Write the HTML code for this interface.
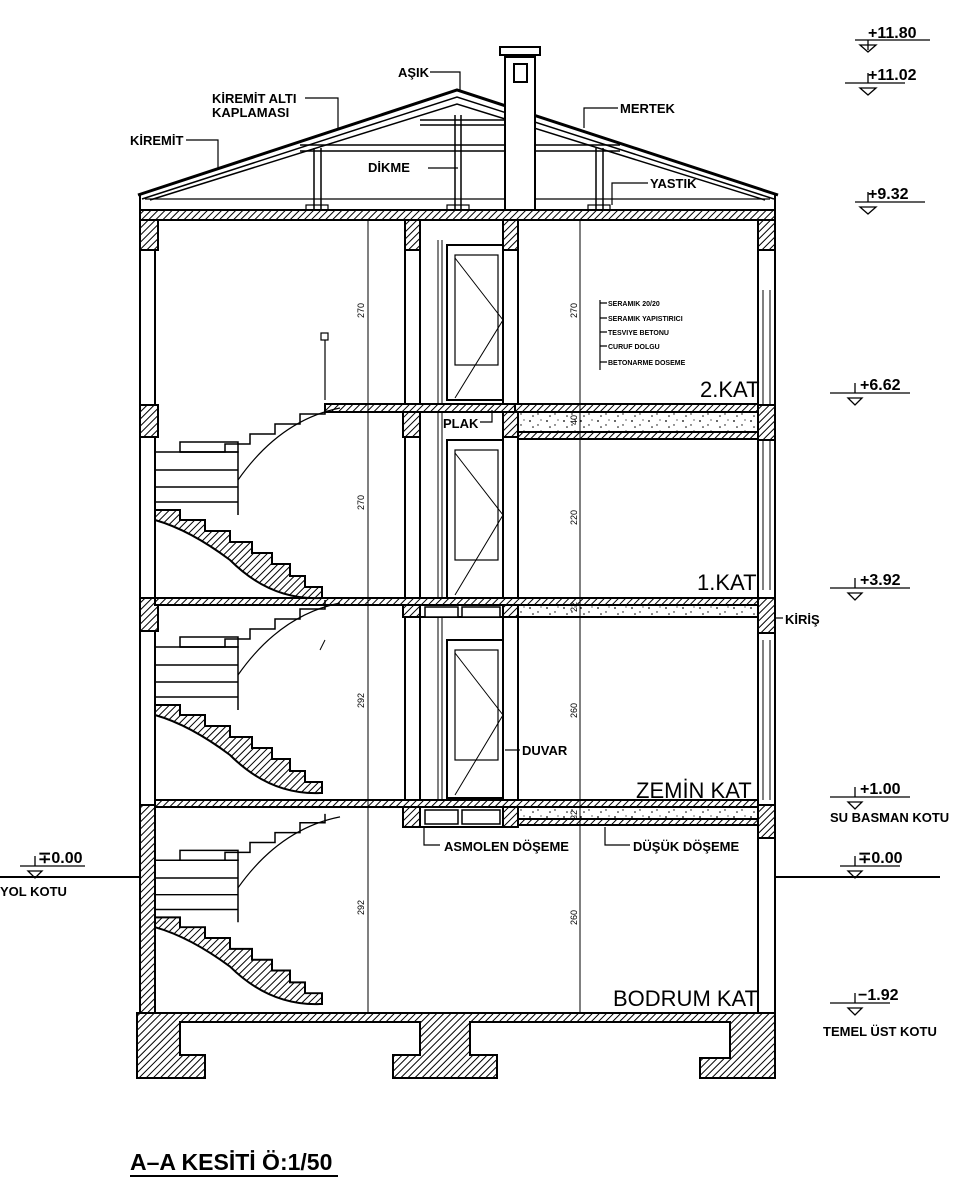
<!DOCTYPE html>
<html><head><meta charset="utf-8"><style>
html,body{margin:0;padding:0;background:#fff;}
svg{display:block;}
text{font-family:"Liberation Sans",sans-serif;fill:#000;}
</style></head><body>
<svg width="965" height="1200" viewBox="0 0 965 1200" xmlns="http://www.w3.org/2000/svg">
<defs>
<pattern id="h" patternUnits="userSpaceOnUse" width="5" height="5" patternTransform="rotate(45)">
<rect width="5" height="5" fill="#fff"/><line x1="0" y1="0" x2="0" y2="5" stroke="#000" stroke-width="2"/></pattern>
<pattern id="d" patternUnits="userSpaceOnUse" width="17" height="11">
<rect width="17" height="11" fill="#fff"/><circle cx="3" cy="3" r="0.9" fill="#000"/><circle cx="11" cy="7" r="0.7" fill="#000"/><circle cx="14" cy="2" r="0.6" fill="#000"/><circle cx="6" cy="9" r="0.8" fill="#000"/></pattern>
<g id="st" stroke="#000" stroke-width="1.5" fill="none">
<path d="M325 405 V414 H300 V424 H275 V434 H250 V444 H225 V452 H180 V452" />
<rect x="180" y="442" width="58" height="10"/>
<path d="M155 452 H238 V515 M155 470 H238 M155 487 H238 M155 502 H238"/>
<path d="M238 480 Q280 420 340 408" stroke-width="1.2"/>
<path d="M155 510 H180 V520 H205 V531 H230 V542 H252 V553 H272 V564 H290 V576 H305 V587 H322 V598 H320 Q270 600 230 560 Q190 530 155 520 Z" fill="url(#h)" stroke-width="2"/>
</g>
</defs>

<!-- roof -->
<g stroke="#000" fill="none">
<path d="M138 195 L457 90 L778 195" stroke-width="3"/>
<path d="M142 199 L457 97 L774 199" stroke-width="1.5"/>
<path d="M150 200 L457 104 L765 200" stroke-width="1.5"/>
<path d="M140 210 V195 M775 210 V195" stroke-width="2"/>
<path d="M145 199 H770" stroke-width="1.2"/>
<path d="M300 145 H620 M300 151 H620" stroke-width="1.5"/>
<path d="M420 120 H505 M420 125 H505" stroke-width="1.5"/>
<path d="M314 148 V210 M321 148 V210 M455 115 V210 M461 115 V210 M596 148 V210 M603 148 V210" stroke-width="1.5"/>
<rect x="306" y="205" width="22" height="5" stroke-width="1.2"/>
<rect x="447" y="205" width="22" height="5" stroke-width="1.2"/>
<rect x="588" y="205" width="22" height="5" stroke-width="1.2"/>
<!-- chimney -->
<rect x="505" y="57" width="30" height="153" fill="#fff" stroke-width="2"/>
<rect x="500" y="47" width="40" height="8" stroke-width="2"/>
<rect x="514" y="64" width="13" height="18" stroke-width="2"/>
</g>

<!-- top slab -->
<rect x="140" y="210" width="635" height="10" fill="url(#h)" stroke="#000" stroke-width="2"/>

<!-- outer walls -->
<g stroke="#000" stroke-width="2" fill="none">
<path d="M140 220 V1013 M155 220 V805"/>
<path d="M758 220 V1013 M775 220 V1013"/>
<path d="M763 290 V590 M770 290 V590 M763 640 V800 M770 640 V800" stroke-width="1"/>
</g>
<g stroke="#000" stroke-width="2" fill="url(#h)">
<rect x="140" y="220" width="18" height="30"/>
<rect x="140" y="405" width="18" height="32"/>
<rect x="140" y="598" width="18" height="33"/>
<rect x="140" y="805" width="15" height="208"/>
<rect x="758" y="220" width="17" height="30"/>
<rect x="758" y="405" width="17" height="35"/>
<rect x="758" y="598" width="17" height="35"/>
<rect x="758" y="805" width="17" height="33"/>
</g>

<!-- interior walls -->
<g stroke="#000" stroke-width="2" fill="none">
<path d="M405 220 V800 M420 220 V800 M503 220 V800 M518 220 V800"/>
<path d="M438 240 V800 M442 240 V800" stroke-width="1"/>
<rect x="447" y="245" width="56" height="155"/>
<rect x="455" y="255" width="43" height="110" stroke-width="1.2"/>
<path d="M455 258 L503 320 L455 398" stroke-width="1"/>
<rect x="447" y="440" width="56" height="158"/>
<rect x="455" y="450" width="43" height="110" stroke-width="1.2"/>
<path d="M455 453 L503 515 L455 595" stroke-width="1"/>
<rect x="447" y="640" width="56" height="158"/>
<rect x="455" y="650" width="43" height="110" stroke-width="1.2"/>
<path d="M455 653 L503 715 L455 795" stroke-width="1"/>
</g>
<g stroke="#000" stroke-width="2" fill="url(#h)">
<rect x="405" y="220" width="15" height="30"/>
<rect x="503" y="220" width="15" height="30"/>
<rect x="403" y="412" width="17" height="25"/>
<rect x="503" y="412" width="17" height="25"/>
<rect x="403" y="605" width="17" height="12"/>
<rect x="503" y="605" width="17" height="12"/>
<rect x="403" y="807" width="17" height="20"/>
<rect x="503" y="807" width="15" height="20"/>
</g>

<!-- slabs -->
<g stroke="#000" stroke-width="2">
<rect x="325" y="404" width="195" height="8" fill="url(#h)"/>
<rect x="515" y="404" width="243" height="8" fill="url(#h)"/>
<rect x="518" y="412" width="240" height="20" fill="url(#d)"/>
<rect x="518" y="432" width="240" height="7" fill="url(#h)"/>
<rect x="155" y="598" width="603" height="7" fill="url(#h)"/>
<rect x="518" y="605" width="240" height="12" fill="url(#d)"/>
<rect x="420" y="605" width="83" height="12" fill="#fff"/>
<rect x="425" y="607" width="33" height="10" fill="#fff" stroke-width="1.5"/>
<rect x="462" y="607" width="38" height="10" fill="#fff" stroke-width="1.5"/>
<rect x="155" y="800" width="603" height="7" fill="url(#h)"/>
<rect x="518" y="807" width="240" height="12" fill="url(#d)"/>
<rect x="518" y="819" width="240" height="6" fill="url(#h)"/>
<rect x="420" y="807" width="83" height="20" fill="#fff"/>
<rect x="425" y="810" width="33" height="14" fill="#fff" stroke-width="1.5"/>
<rect x="462" y="810" width="38" height="14" fill="#fff" stroke-width="1.5"/>
<path d="M403 827 H518" fill="none"/>
</g>

<!-- stairs -->
<use href="#st"/>
<use href="#st" transform="translate(0,195)"/>
<use href="#st" transform="translate(0,415) scale(1,0.985)"/>
<path d="M325 400 V340" stroke="#000" stroke-width="1.2"/>
<rect x="321" y="333" width="7" height="7" fill="none" stroke="#000" stroke-width="1.2"/>
<path d="M320 650 L325 640" stroke="#000"/>

<!-- foundation -->
<path d="M137 1013 H775 V1078 H700 V1058 H730 V1022 H470 V1055 H497 V1078 H393 V1055 H420 V1022 H180 V1055 H205 V1078 H137 Z" fill="url(#h)" stroke="#000" stroke-width="2"/>
<path d="M155 1013 H758" stroke="#000" stroke-width="2"/>

<!-- dimension lines -->
<g stroke="#000" stroke-width="1">
<path d="M368 220 V1013 M580 220 V1013"/>
</g>
<g font-size="9" >
<text transform="translate(364,318) rotate(-90)">270</text>
<text transform="translate(364,510) rotate(-90)">270</text>
<text transform="translate(364,708) rotate(-90)">292</text>
<text transform="translate(364,915) rotate(-90)">292</text>
<text transform="translate(577,318) rotate(-90)">270</text>
<text transform="translate(577,425) rotate(-90)">40</text>
<text transform="translate(577,525) rotate(-90)">220</text>
<text transform="translate(577,612) rotate(-90)">22</text>
<text transform="translate(577,718) rotate(-90)">260</text>
<text transform="translate(577,820) rotate(-90)">22</text>
<text transform="translate(577,925) rotate(-90)">260</text>
</g>

<!-- ground lines -->
<path d="M0 877 H140 M775 877 H940" stroke="#000" stroke-width="2"/>

<!-- leaders -->
<g stroke="#000" stroke-width="1.2" fill="none">
<path d="M430 72 H460 V92"/>
<path d="M305 98 H338 V128"/>
<path d="M186 140 H218 V170"/>
<path d="M428 168 H458"/>
<path d="M618 108 H584 V128"/>
<path d="M648 183 H612 V205"/>
<path d="M600 300 V370 M600 303 H607 M600 318 H607 M600 332 H607 M600 346 H607 M600 362 H607"/>
<path d="M480 422 H492 V410"/>
<path d="M505 750 H520"/>
<path d="M775 618 H783"/>
<path d="M424 827 V845 H440"/>
<path d="M605 827 V845 H630"/>
</g>

<!-- labels -->
<g font-size="13" font-weight="bold">
<text x="398" y="77">AŞIK</text>
<text x="212" y="103">KİREMİT ALTI</text>
<text x="212" y="117">KAPLAMASI</text>
<text x="130" y="145">KİREMİT</text>
<text x="368" y="172">DİKME</text>
<text x="620" y="113">MERTEK</text>
<text x="650" y="188">YASTIK</text>
<text x="443" y="428">PLAK</text>
<text x="522" y="755">DUVAR</text>
<text x="785" y="624">KİRİŞ</text>
<text x="444" y="851">ASMOLEN DÖŞEME</text>
<text x="633" y="851">DÜŞÜK DÖŞEME</text>
</g>
<g font-size="7" font-weight="bold">
<text x="608" y="306">SERAMIK 20/20</text>
<text x="608" y="321">SERAMIK YAPISTIRICI</text>
<text x="608" y="335">TESVIYE BETONU</text>
<text x="608" y="349">CURUF DOLGU</text>
<text x="608" y="365">BETONARME DOSEME</text>
</g>
<g font-size="22">
<text x="700" y="397">2.KAT</text>
<text x="697" y="590">1.KAT</text>
<text x="636" y="798">ZEMİN KAT</text>
<text x="613" y="1006">BODRUM KAT</text>
</g>

<!-- level markers -->
<g stroke="#000" stroke-width="1.3" fill="none">
<path d="M855 40 H930 M868 40 V50 M860 45 L868 52 L876 45 Z"/>
<path d="M845 83 H905 M868 83 V73 M860 88 L868 95 L876 88 Z"/>
<path d="M855 202 H925 M868 202 V192 M860 207 L868 214 L876 207 Z"/>
<path d="M830 393 H910 M855 393 V383 M848 398 L855 405 L862 398 Z"/>
<path d="M830 588 H910 M855 588 V578 M848 593 L855 600 L862 593 Z"/>
<path d="M830 797 H910 M855 797 V787 M848 802 L855 809 L862 802 Z"/>
<path d="M840 866 H900 M855 866 V856 M848 871 L855 878 L862 871 Z"/>
<path d="M830 1003 H890 M855 1003 V993 M848 1008 L855 1015 L862 1008 Z"/>
<path d="M20 866 H85 M35 866 V856 M28 871 L35 878 L42 871 Z"/>
</g>
<g font-size="16" font-weight="bold">
<text x="868" y="38">+11.80</text>
<text x="868" y="80">+11.02</text>
<text x="868" y="199">+9.32</text>
<text x="860" y="390">+6.62</text>
<text x="860" y="585">+3.92</text>
<text x="860" y="794">+1.00</text>
<text x="858" y="863">∓0.00</text>
<text x="858" y="1000">−1.92</text>
<text x="38" y="863">∓0.00</text>
</g>
<g font-size="13" font-weight="bold">
<text x="830" y="822">SU BASMAN KOTU</text>
<text x="823" y="1036">TEMEL ÜST KOTU</text>
<text x="0" y="896">YOL KOTU</text>
</g>

<!-- title -->
<text x="130" y="1170" font-size="23" font-weight="bold">A–A KESİTİ Ö:1/50</text>
<path d="M130 1176 H338" stroke="#000" stroke-width="2"/>
</svg>
</body></html>
